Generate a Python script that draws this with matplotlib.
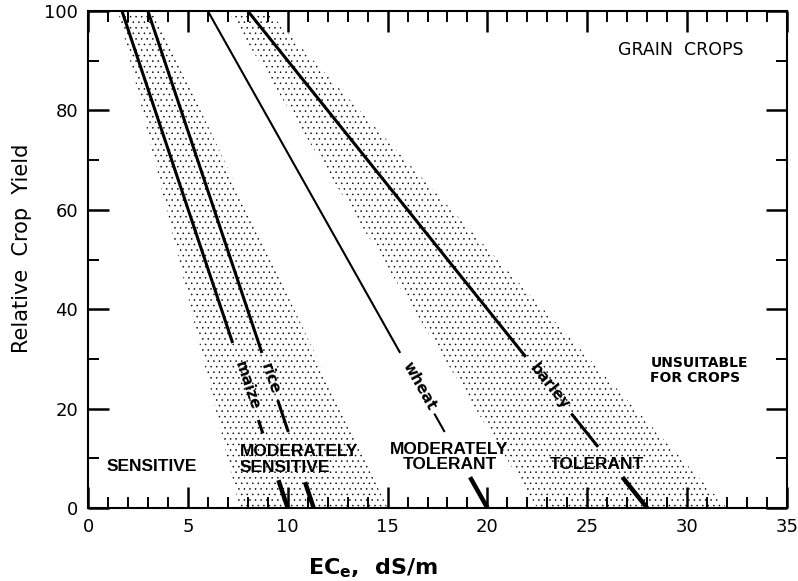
import numpy as np
import matplotlib
matplotlib.use('Agg')
import matplotlib.pyplot as plt

# ---------------- data ----------------
crops = ['maize', 'rice', 'wheat', 'barley']
threshold_ec = [1.7, 3.0, 6.0, 8.0]        # ECe where yield starts to fall (100 %)
zero_yield_ec = [10.0, 11.3, 20.0, 28.0]   # ECe where yield reaches 0 %
# yield ranges (top, bottom) where each crop line is drawn (gaps hold labels)
visible_ranges = [
    [(100, 33.2), (17.7, 15.0), (5.6, 0)],
    [(100, 31.2), (21.7, 15.3), (5.2, 0)],
    [(100, 31.2), (19.0, 15.3), (6.2, 0)],
    [(100, 30.4), (19.0, 12.3), (6.2, 0)],
]
label_yield = [24.7, 26.0, 24.5, 24.5]

# stippled transition bands: ECe of edges at 100 % and 0 % yield
band_top_left = [1.5, 7.0]
band_top_right = [3.3, 9.0]
band_bottom_left = [7.6, 22.5]
band_bottom_right = [15.0, 32.0]

classes = ['SENSITIVE', 'MODERATELY\nSENSITIVE', 'MODERATELY\nTOLERANT',
           'TOLERANT', 'UNSUITABLE\nFOR CROPS']

x_ticks = [0, 5, 10, 15, 20, 25, 30, 35]
y_ticks = [0, 20, 40, 60, 80, 100]

# ---------------- layout ----------------
plt.rcParams['hatch.linewidth'] = 0.35
plt.rcParams['hatch.color'] = 'black'

fig = plt.figure(figsize=(7.98, 5.81), dpi=100)
ax = fig.add_axes([88 / 798, 1 - 508 / 581, (787 - 88) / 798, (508 - 11) / 581])
ax.set_xlim(0, 35)
ax.set_ylim(0, 100)

for tl, tr, bl, br in zip(band_top_left, band_top_right, band_bottom_left, band_bottom_right):
    ax.fill([tl, tr, br, bl], [100, 100, 0, 0], facecolor='none',
            edgecolor='black', linewidth=0, hatch='...', zorder=1)

widths = [2.2, 2.2, 1.5, 2.2]


def ec_at(i, y):
    t, z = threshold_ec[i], zero_yield_ec[i]
    return t + (100 - y) / 100 * (z - t)


fig.canvas.draw()
for i, name in enumerate(crops):
    for k, (y0, y1) in enumerate(visible_ranges[i]):
        lw = widths[i] if k < 2 else 3.2
        ax.plot([ec_at(i, y0), ec_at(i, y1)], [y0, y1], color='black',
                lw=lw, solid_capstyle='butt', zorder=3)
    p0 = ax.transData.transform((threshold_ec[i], 100))
    p1 = ax.transData.transform((zero_yield_ec[i], 0))
    ang = np.degrees(np.arctan2(p1[1] - p0[1], p1[0] - p0[0]))
    ax.text(ec_at(i, label_yield[i]), label_yield[i], name, rotation=ang,
            rotation_mode='anchor', ha='center', va='center',
            fontsize=11, fontweight='bold', zorder=4)

cls_font = dict(family='Liberation Sans', fontsize=12.5, fontweight='bold',
                color='black', zorder=4)
ax.text(3.2, 8.3, classes[0], ha='center', va='center', **cls_font)
ax.text(7.6, 9.8, classes[1], ha='left', va='center', linespacing=1.05, **cls_font)
ax.text(18.1, 10.3, classes[2], ha='center', va='center', multialignment='center',
        linespacing=1.05, **cls_font)
ax.text(25.5, 8.7, classes[3], ha='center', va='center', **cls_font)
ax.text(30.6, 27.6, classes[4], ha='center', va='center', multialignment='left',
        fontsize=10, fontweight='bold', family='DejaVu Sans', linespacing=1.1, zorder=4)
ax.text(29.7, 92.1, 'GRAIN  CROPS', ha='center', va='center', fontsize=12.5,
        family='DejaVu Sans')

# ticks
ax.set_xticks(x_ticks)
ax.set_yticks(y_ticks)
ax.set_xticks(np.arange(0, 36, 1), minor=True)
ax.set_yticks(np.arange(0, 101, 10), minor=True)
ax.tick_params(which='major', direction='in', length=15, width=1.8,
               top=True, right=True, labelsize=13, pad=7)
ax.tick_params(which='minor', direction='in', length=8, width=1.4,
               top=True, right=True)
for s in ax.spines.values():
    s.set_linewidth(1.5)

ax.set_ylabel('Relative  Crop  Yield', fontsize=15)
ax.yaxis.set_label_coords(-0.080, 0.523)
fig.text(373 / 798, 1 - 568 / 581, r'EC$_\mathregular{e}$,  dS/m', ha='center',
         va='center', fontsize=16, fontweight='bold')

fig.savefig('out.png', dpi=100)
